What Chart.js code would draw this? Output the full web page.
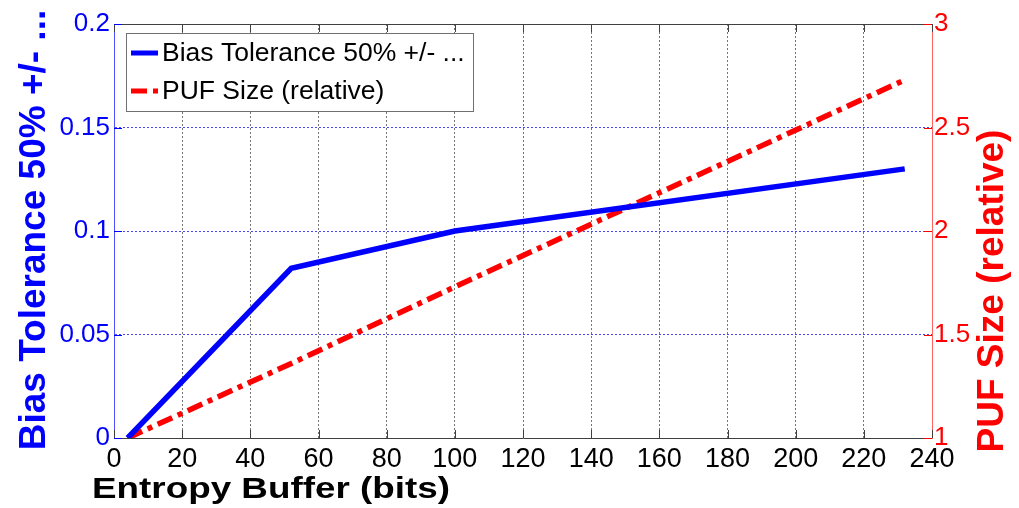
<!DOCTYPE html>
<html>
<head>
<meta charset="utf-8">
<script src="https://cdn.jsdelivr.net/npm/chart.js@4"></script>
<style>
  html, body { margin: 0; padding: 0; background: #ffffff; }
  #wrap { width: 1019px; height: 508px; position: relative; }
</style>
</head>
<body>
<div id="wrap"><canvas id="c"></canvas></div>
<script>
// ---- data ----
const entropyBits = [4, 52, 100, 232];
const biasTolerance = [0, 0.082, 0.1, 0.13];
const pufSize = [1, 1.36, 1.73, 2.73];

const xTickValues = [0, 20, 40, 60, 80, 100, 120, 140, 160, 180, 200, 220, 240];
const yLeftTickValues = [0, 0.05, 0.1, 0.15, 0.2];
const yRightTickValues = [1, 1.5, 2, 2.5, 3];

const seriesLabels = ['Bias Tolerance 50% +/- ...', 'PUF Size (relative)'];
const xTitle = 'Entropy Buffer (bits)';
const yLeftTitle = 'Bias Tolerance 50% +/- ...';
const yRightTitle = 'PUF Size (relative)';

const FONT = '"Liberation Sans", Arial, Helvetica, sans-serif';
const BLUE = '#0000ff';
const RED = '#ff0000';
const RED_DASH = [16, 6, 5, 6];

const overlay = {
  id: 'overlay',
  afterDatasetsDraw(chart) {
    const ctx = chart.ctx;
    const a = chart.chartArea;
    const xs = chart.scales.x, yl = chart.scales.y, yr = chart.scales.y2;
    ctx.save();
    // top border
    ctx.strokeStyle = '#404040';
    ctx.lineWidth = 1;
    ctx.beginPath();
    ctx.moveTo(a.left, a.top + 0.5);
    ctx.lineTo(a.right, a.top + 0.5);
    ctx.stroke();
    // inward x tick marks (bottom and top)
    xTickValues.forEach(v => {
      const px = Math.round(xs.getPixelForValue(v)) + 0.5;
      ctx.beginPath();
      ctx.moveTo(px, a.bottom); ctx.lineTo(px, a.bottom - 8);
      ctx.moveTo(px, a.top); ctx.lineTo(px, a.top + 8);
      ctx.stroke();
    });
    // left ticks (blue, inward)
    ctx.strokeStyle = BLUE;
    yLeftTickValues.forEach(v => {
      const py = Math.round(yl.getPixelForValue(v)) + 0.5;
      ctx.beginPath(); ctx.moveTo(a.left, py); ctx.lineTo(a.left + 8, py); ctx.stroke();
    });
    // right ticks (red, inward)
    ctx.strokeStyle = RED;
    yRightTickValues.forEach(v => {
      const py = Math.round(yr.getPixelForValue(v)) + 0.5;
      ctx.beginPath(); ctx.moveTo(a.right, py); ctx.lineTo(a.right - 8, py); ctx.stroke();
    });

    // legend box
    const lx = 126, ly = 33, lw = 347, lh = 78;
    ctx.fillStyle = '#ffffff';
    ctx.fillRect(lx, ly, lw, lh);
    ctx.strokeStyle = '#707070';
    ctx.lineWidth = 1;
    ctx.strokeRect(lx + 0.5, ly + 0.5, lw, lh);
    const rows = [53, 91];
    chart.data.datasets.forEach((ds, i) => {
      ctx.save();
      ctx.strokeStyle = ds.borderColor;
      ctx.lineWidth = 5;
      ctx.setLineDash(ds.borderDash || []);
      ctx.beginPath();
      ctx.moveTo(131, rows[i]);
      ctx.lineTo(158, rows[i]);
      ctx.stroke();
      ctx.restore();
      ctx.fillStyle = '#000000';
      ctx.font = '26.5px ' + FONT;
      ctx.textAlign = 'left';
      ctx.textBaseline = 'middle';
      ctx.fillText(ds.label, 162, rows[i] + 1);
    });

    // axis titles
    ctx.font = 'bold 37px ' + FONT;
    ctx.textAlign = 'center';
    ctx.textBaseline = 'alphabetic';
    ctx.fillStyle = BLUE;
    ctx.save();
    ctx.translate(45, 230);
    ctx.rotate(-Math.PI / 2);
    ctx.fillText(yLeftTitle, 0, 0);
    ctx.restore();

    ctx.fillStyle = RED;
    ctx.save();
    ctx.translate(1003, 291);
    ctx.rotate(-Math.PI / 2);
    ctx.fillText(yRightTitle, 0, 0);
    ctx.restore();

    ctx.fillStyle = '#000000';
    ctx.font = 'bold 30px ' + FONT;
    ctx.save();
    ctx.translate(271, 498);
    ctx.scale(1.227, 1);
    ctx.fillText(xTitle, 0, 0);
    ctx.restore();

    ctx.restore();
  }
};

const ctx = document.getElementById('c').getContext('2d');
new Chart(ctx, {
  type: 'line',
  data: {
    datasets: [
      {
        label: seriesLabels[0],
        data: entropyBits.map((x, i) => ({ x: x, y: biasTolerance[i] })),
        borderColor: BLUE,
        backgroundColor: BLUE,
        borderWidth: 5.5,
        pointRadius: 0,
        tension: 0,
        yAxisID: 'y',
        borderCapStyle: 'butt',
        borderJoinStyle: 'miter'
      },
      {
        label: seriesLabels[1],
        data: entropyBits.map((x, i) => ({ x: x, y: pufSize[i] })),
        borderColor: RED,
        backgroundColor: RED,
        borderWidth: 5.5,
        borderDash: RED_DASH,
        pointRadius: 0,
        tension: 0,
        yAxisID: 'y2',
        borderCapStyle: 'butt'
      }
    ]
  },
  options: {
    responsive: true,
    maintainAspectRatio: false,
    animation: false,
    events: [],
    layout: { padding: { top: 24, left: 0, right: 0, bottom: 0 } },
    plugins: { legend: { display: false }, tooltip: { enabled: false }, title: { display: false } },
    scales: {
      x: {
        type: 'linear',
        min: 0, max: 240,
        afterBuildTicks: s => { s.ticks = xTickValues.map(v => ({ value: v })); },
        afterFit: s => { s.height = 70; },
        ticks: { color: '#000000', font: { family: FONT, size: 27 }, padding: 5, maxRotation: 0, autoSkip: false, callback: v => String(v) },
        grid: {
          drawTicks: false,
          color: c => (c.tick && (c.tick.value === 0 || c.tick.value === 240)) ? 'rgba(0,0,0,0)' : 'rgba(70,70,70,0.75)',
          lineWidth: 1
        },
        border: { display: true, color: '#404040', width: 1, dash: [2, 2] }
      },
      y: {
        type: 'linear',
        position: 'left',
        min: 0, max: 0.2,
        afterBuildTicks: s => { s.ticks = yLeftTickValues.map(v => ({ value: v })); },
        afterFit: s => { s.width = 114; },
        ticks: { color: BLUE, font: { family: FONT, size: 26 }, padding: 4, callback: v => String(v) },
        grid: {
          drawTicks: false,
          color: c => (c.tick && (c.tick.value === 0 || c.tick.value === 0.2)) ? 'rgba(0,0,0,0)' : 'rgba(40,40,255,0.85)',
          lineWidth: 1
        },
        border: { display: true, color: '#5050ff', width: 1, dash: [2, 2] }
      },
      y2: {
        type: 'linear',
        position: 'right',
        min: 1, max: 3,
        afterBuildTicks: s => { s.ticks = yRightTickValues.map(v => ({ value: v })); },
        afterFit: s => { s.width = 87; },
        ticks: { color: RED, font: { family: FONT, size: 26 }, padding: 2, callback: v => String(v) },
        grid: { display: false, drawTicks: false },
        border: { display: true, color: '#ff6060', width: 1 }
      }
    }
  },
  plugins: [overlay]
});
</script>
</body>
</html>
